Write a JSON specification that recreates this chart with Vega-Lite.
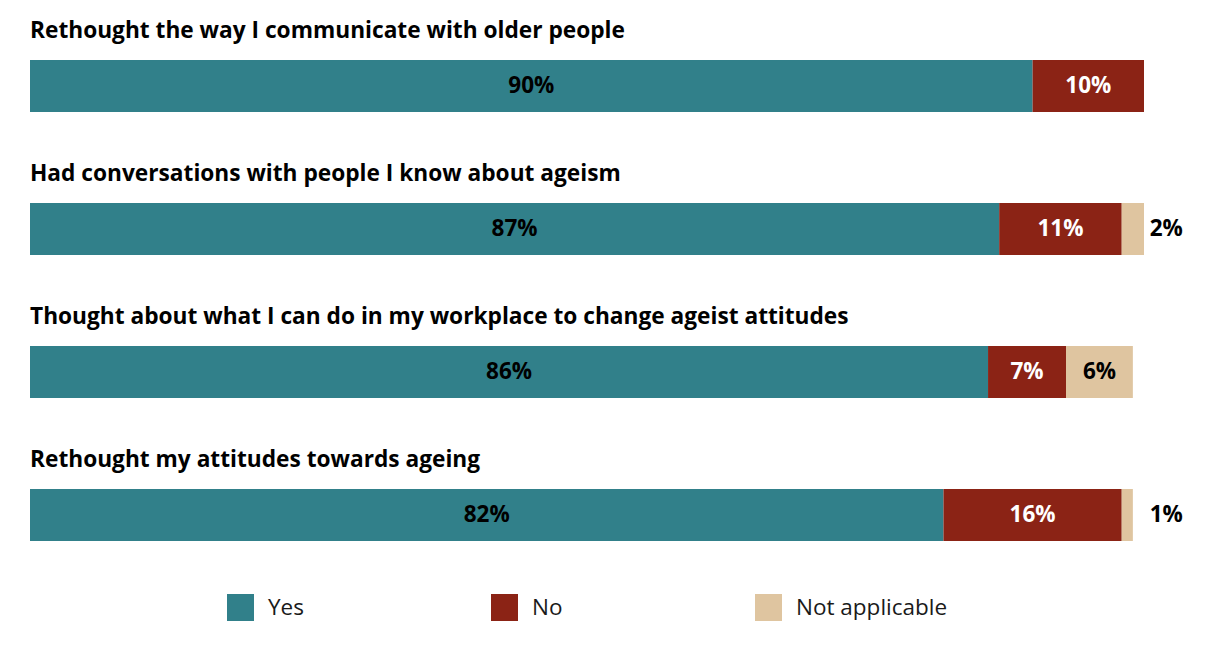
{
  "$schema": "https://vega.github.io/schema/vega-lite/v6.json",
  "width": 1114,
  "height": 509,
  "autosize": {"type": "none"},
  "padding": {"left": 30, "top": 46, "right": 70, "bottom": 91},
  "config": {"view": {"stroke": null}, "font": "Open Sans"},
  "data": {"values": [
    {"q": "Rethought the way I communicate with older people", "answer": "Yes", "value": 90},
    {"q": "Rethought the way I communicate with older people", "answer": "No", "value": 10},
    {"q": "Had conversations with people I know about ageism", "answer": "Yes", "value": 87},
    {"q": "Had conversations with people I know about ageism", "answer": "No", "value": 11},
    {"q": "Had conversations with people I know about ageism", "answer": "Not applicable", "value": 2},
    {"q": "Thought about what I can do in my workplace to change ageist attitudes", "answer": "Yes", "value": 86},
    {"q": "Thought about what I can do in my workplace to change ageist attitudes", "answer": "No", "value": 7},
    {"q": "Thought about what I can do in my workplace to change ageist attitudes", "answer": "Not applicable", "value": 6},
    {"q": "Rethought my attitudes towards ageing", "answer": "Yes", "value": 82},
    {"q": "Rethought my attitudes towards ageing", "answer": "No", "value": 16},
    {"q": "Rethought my attitudes towards ageing", "answer": "Not applicable", "value": 1}
  ]},
  "transform": [
    {"calculate": "indexof(['Yes','No','Not applicable'], datum.answer)", "as": "ord"},
    {"stack": "value", "groupby": ["q"], "sort": [{"field": "ord"}], "as": ["v0", "v1"]},
    {"calculate": "datum.value < 3 ? 102 : (datum.v0 + datum.v1) / 2", "as": "mid"},
    {"calculate": "datum.value + '%'", "as": "label"}
  ],
  "encoding": {
    "y": {
      "field": "q",
      "type": "nominal",
      "sort": [
        "Rethought the way I communicate with older people",
        "Had conversations with people I know about ageism",
        "Thought about what I can do in my workplace to change ageist attitudes",
        "Rethought my attitudes towards ageing"
      ],
      "axis": null,
      "scale": {"paddingInner": 0.6364, "paddingOuter": 0.0979}
    }
  },
  "layer": [
    {
      "mark": {"type": "bar"},
      "encoding": {
        "x": {"field": "v0", "type": "quantitative", "scale": {"domain": [0, 100]}, "axis": null},
        "x2": {"field": "v1"},
        "color": {
          "field": "answer",
          "type": "nominal",
          "scale": {"domain": ["Yes", "No", "Not applicable"], "range": ["#31808a", "#8b2315", "#dfc5a0"]},
          "legend": {
            "title": null,
            "orient": "none",
            "legendX": 197,
            "legendY": 548,
            "direction": "horizontal",
            "columns": 3,
            "gridAlign": "all",
            "columnPadding": 71,
            "padding": 0,
            "symbolType": "square",
            "symbolSize": 729,
            "symbolStrokeWidth": 0,
            "symbolOpacity": 1,
            "labelFontSize": 22.5,
            "labelFont": "Open Sans",
            "labelColor": "#1a1a1a",
            "labelOffset": 14
          }
        }
      }
    },
    {
      "mark": {"type": "text", "fontWeight": "bold", "fontSize": 22.5, "baseline": "middle"},
      "encoding": {
        "x": {"field": "mid", "type": "quantitative"},
        "text": {"field": "label"},
        "color": {"condition": {"test": "datum.answer === 'No'", "value": "white"}, "value": "black"}
      }
    },
    {
      "transform": [{"filter": "datum.answer === 'Yes'"}],
      "mark": {"type": "text", "align": "left", "baseline": "middle", "dy": -55, "fontWeight": "bold", "fontSize": 22.7, "color": "black"},
      "encoding": {
        "x": {"datum": 0},
        "text": {"field": "q"}
      }
    }
  ]
}
